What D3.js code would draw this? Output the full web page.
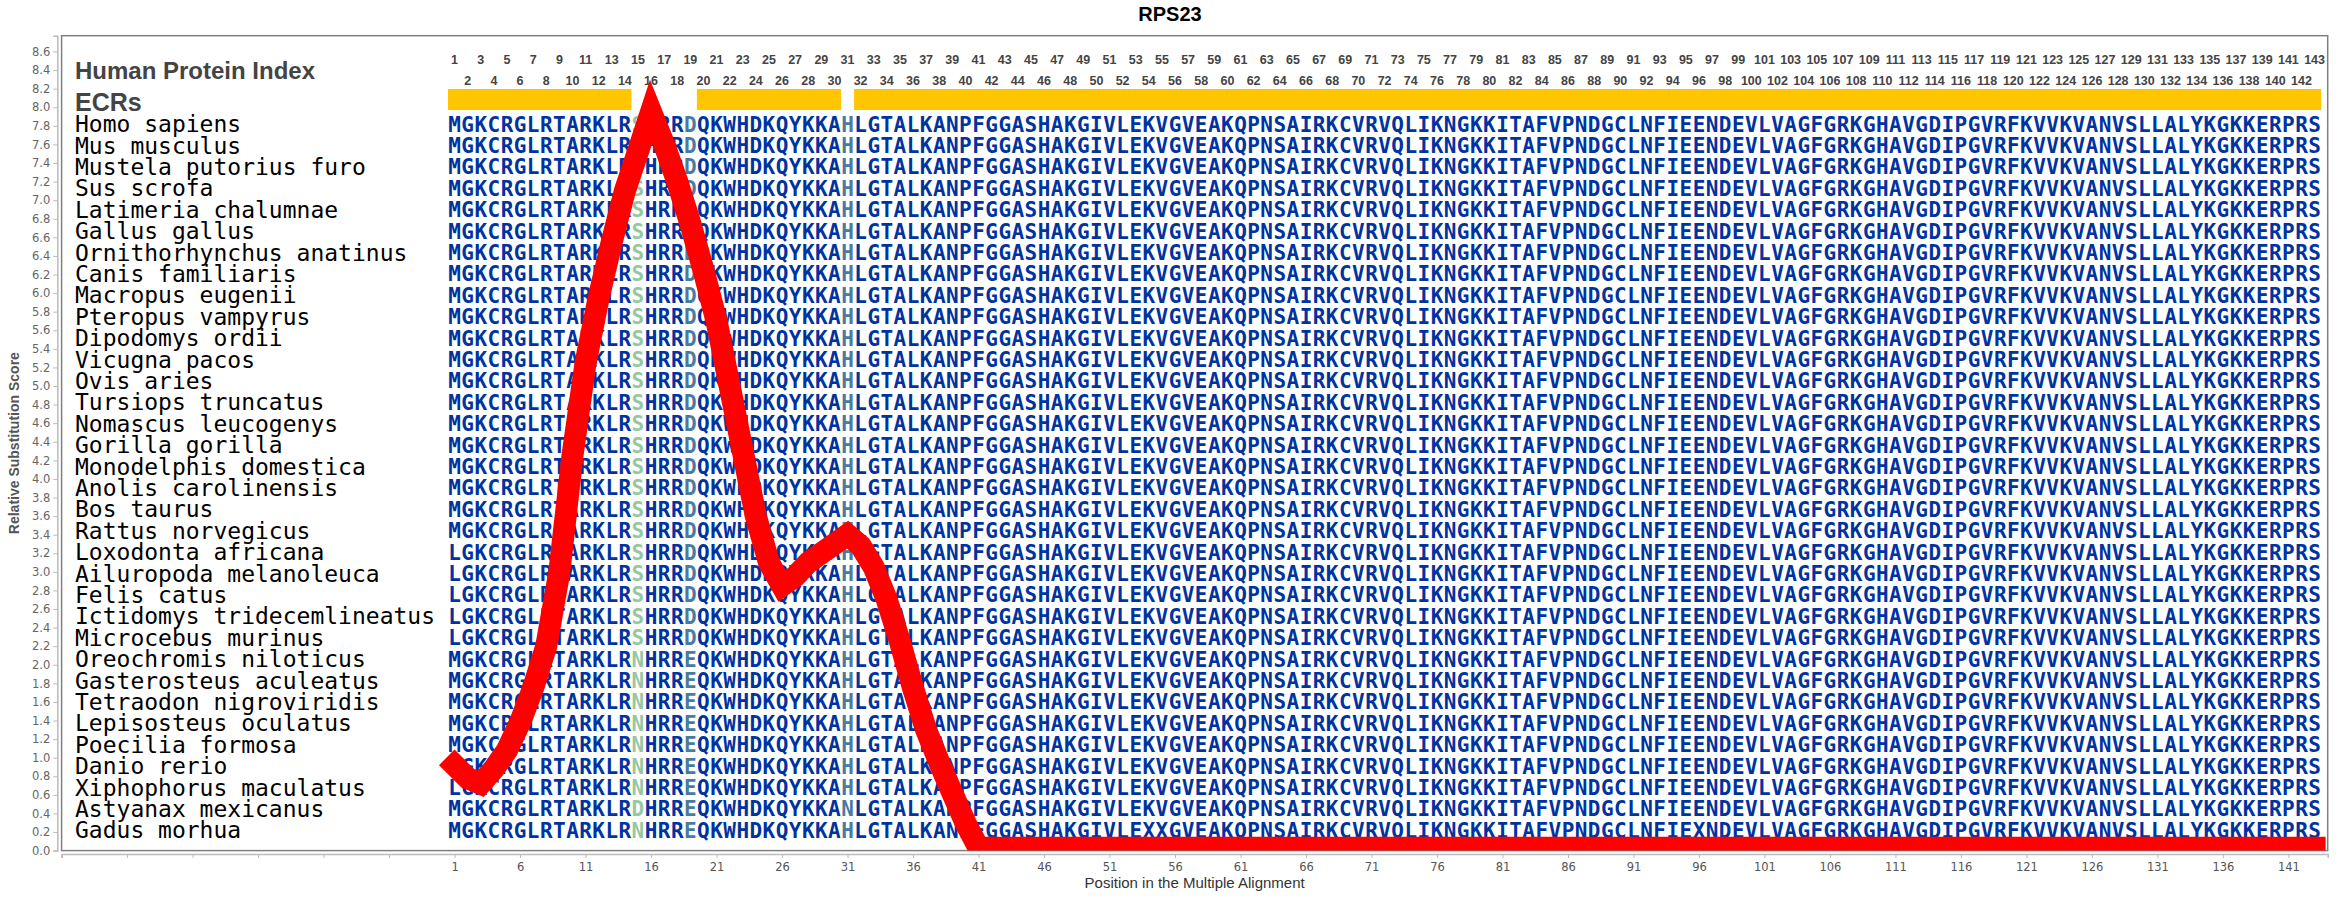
<!DOCTYPE html>
<html>
<head>
<meta charset="utf-8">
<script src="https://cdn.jsdelivr.net/npm/d3@7"></script>
<style>
  body { margin: 0; background: #fff; }
  svg { display: block; }
</style>
</head>
<body>
<div class="visHolder"></div>
<script>
const width = 2340, height = 900;

const title = "RPS23";

const species = [
  "Homo sapiens", "Mus musculus", "Mustela putorius furo", "Sus scrofa",
  "Latimeria chalumnae", "Gallus gallus", "Ornithorhynchus anatinus",
  "Canis familiaris", "Macropus eugenii", "Pteropus vampyrus", "Dipodomys ordii",
  "Vicugna pacos", "Ovis aries", "Tursiops truncatus", "Nomascus leucogenys",
  "Gorilla gorilla", "Monodelphis domestica", "Anolis carolinensis", "Bos taurus",
  "Rattus norvegicus", "Loxodonta africana", "Ailuropoda melanoleuca", "Felis catus",
  "Ictidomys tridecemlineatus", "Microcebus murinus", "Oreochromis niloticus",
  "Gasterosteus aculeatus", "Tetraodon nigroviridis", "Lepisosteus oculatus",
  "Poecilia formosa", "Danio rerio", "Xiphophorus maculatus", "Astyanax mexicanus",
  "Gadus morhua"
];

// human sequence, positions 1..143
const reference = "MGKCRGLRTARKLRSHRRDQKWHDKQYKKAHLGTALKANPFGGASHAKGIVLEKVGVEAKQPNSAIRKCVRVQLIKNGKKITAFVPNDGCLNFIEENDEVLVAGFGRKGHAVGDIPGVRFKVVKVANVSLLALYKGKKERPRS";

// residues that differ from the human sequence (position -> residue), one entry per species
const fish = {15: "N", 19: "E"};
const variants = [
  {}, {}, {}, {}, {}, {}, {}, {}, {}, {}, {}, {}, {}, {}, {}, {}, {}, {}, {}, {},
  {1: "L"}, {1: "L"}, {1: "L"}, {1: "L"}, {1: "L"},
  fish, fish, fish, fish, fish, fish,
  {1: "L", 15: "N", 19: "E"},
  {15: "D", 19: "E", 31: "N"},
  {15: "N", 19: "E", 54: "X", 55: "X", 96: "X"}
];

// evolutionarily conserved regions [from, to]
const ecrs = [[1, 14], [20, 30], [32, 143]];

// colour of variable columns
const siteColors = {15: "#96c8a0", 19: "#4a7aa0", 31: "#4a7aa0"};

// relative substitution score per alignment position 1..143
const score = [
  0.92, 0.78, 0.72, 0.88, 1.08, 1.38, 1.75, 2.20, 3.00, 4.25,
  5.25, 5.95, 6.55, 7.10, 7.52, 7.95, 7.60, 7.20, 6.75, 6.25,
  5.70, 5.00, 4.30, 3.60, 3.10, 2.85, 2.95, 3.10, 3.20, 3.30,
  3.40, 3.28, 3.05, 2.70, 2.25, 1.75, 1.30, 0.95, 0.62, 0.30,
  0.03, 0.03, 0.03, 0.03, 0.03, 0.03, 0.03, 0.03, 0.03, 0.03,
  0.03, 0.03, 0.03, 0.03, 0.03, 0.03, 0.03, 0.03, 0.03, 0.03,
  0.03, 0.03, 0.03, 0.03, 0.03, 0.03, 0.03, 0.03, 0.03, 0.03,
  0.03, 0.03, 0.03, 0.03, 0.03, 0.03, 0.03, 0.03, 0.03, 0.03,
  0.03, 0.03, 0.03, 0.03, 0.03, 0.03, 0.03, 0.03, 0.03, 0.03,
  0.03, 0.03, 0.03, 0.03, 0.03, 0.03, 0.03, 0.03, 0.03, 0.03,
  0.03, 0.03, 0.03, 0.03, 0.03, 0.03, 0.03, 0.03, 0.03, 0.03,
  0.03, 0.03, 0.03, 0.03, 0.03, 0.03, 0.03, 0.03, 0.03, 0.03,
  0.03, 0.03, 0.03, 0.03, 0.03, 0.03, 0.03, 0.03, 0.03, 0.03,
  0.03, 0.03, 0.03, 0.03, 0.03, 0.03, 0.03, 0.03, 0.03, 0.03,
  0.03, 0.03, 0.03
];

const yTickValues = [0, 0.2, 0.4, 0.6, 0.8, 1.0, 1.2, 1.4, 1.6, 1.8, 2.0, 2.2, 2.4, 2.6, 2.8,
  3.0, 3.2, 3.4, 3.6, 3.8, 4.0, 4.2, 4.4, 4.6, 4.8, 5.0, 5.2, 5.4, 5.6, 5.8, 6.0,
  6.2, 6.4, 6.6, 6.8, 7.0, 7.2, 7.4, 7.6, 7.8, 8.0, 8.2, 8.4, 8.6];
const xTickValues = [-29, -24, -19, -14, -9, -4, 1, 6, 11, 16, 21, 26, 31, 36, 41, 46, 51,
  56, 61, 66, 71, 76, 81, 86, 91, 96, 101, 106, 111, 116, 121, 126, 131, 136, 141];

const plot = {left: 61.6, right: 2327.7, top: 35.7, bottom: 850.6};

const sequences = species.map((s, i) =>
  reference.split("").map((aa, k) => variants[i][k + 1] || aa));
const positions = d3.range(1, reference.length + 1);

const xScale = d3.scaleLinear().domain([-29, 144]).range([plot.left, plot.right]);
const yScale = d3.scaleLinear().domain([0, 8.77]).range([plot.bottom, plot.top]);
const rowScale = d3.scalePoint().domain(species).range([yScale(7.82), yScale(0.22)]);

const svg = d3.select(".visHolder")
  .append("svg")
  .attr("width", width)
  .attr("height", height);

svg.append("text")
  .attr("x", width / 2)
  .attr("y", 21)
  .attr("text-anchor", "middle")
  .style("font", "bold 20px 'Liberation Sans', Arial, sans-serif")
  .text(title);

// axes
const yAxis = d3.axisLeft(yScale).tickValues(yTickValues).tickFormat(d3.format(".1f"))
  .tickSize(4).tickPadding(3);
const gy = svg.append("g")
  .attr("transform", "translate(57.3,0)")
  .call(yAxis);
gy.select(".domain").attr("stroke", "#bbb").attr("stroke-width", 1.5);
gy.selectAll(".tick line").attr("stroke", "#bbb");
gy.selectAll(".tick text").attr("fill", "#666")
  .style("font", "11.5px 'DejaVu Sans', sans-serif");

const xAxis = d3.axisBottom(xScale).tickValues(xTickValues)
  .tickFormat(d => d > 0 ? d : "").tickSize(4).tickPadding(5);
const gx = svg.append("g")
  .attr("transform", "translate(0,854)")
  .call(xAxis);
gx.select(".domain").attr("stroke", "#bbb").attr("stroke-width", 1.5);
gx.selectAll(".tick line").attr("stroke", "#bbb");
gx.selectAll(".tick text").attr("fill", "#555")
  .style("font", "11.5px 'DejaVu Sans', sans-serif");

svg.append("rect")
  .attr("x", plot.left).attr("y", plot.top)
  .attr("width", plot.right - plot.left)
  .attr("height", plot.bottom - plot.top)
  .attr("fill", "none")
  .attr("stroke", "#808080")
  .attr("stroke-width", 1.5);

svg.append("text")
  .attr("transform", "translate(19," + ((plot.top + plot.bottom) / 2) + ") rotate(-90)")
  .attr("text-anchor", "middle")
  .attr("fill", "#555")
  .style("font", "bold 14px 'Liberation Sans', Arial, sans-serif")
  .text("Relative Substitution Score");

svg.append("text")
  .attr("x", (plot.left + plot.right) / 2)
  .attr("y", 888)
  .attr("text-anchor", "middle")
  .attr("fill", "#333")
  .style("font", "15px 'Liberation Sans', Arial, sans-serif")
  .text("Position in the Multiple Alignment");

// header labels
svg.append("text")
  .attr("x", 75).attr("y", 79)
  .attr("fill", "#444")
  .style("font", "bold 24px 'Liberation Sans', Arial, sans-serif")
  .text("Human Protein Index");
svg.append("text")
  .attr("x", 75).attr("y", 111)
  .attr("fill", "#444")
  .style("font", "bold 25px 'Liberation Sans', Arial, sans-serif")
  .text("ECRs");

// position numbers, odd on the first line and even on the second
svg.append("g")
  .selectAll("text")
  .data(positions)
  .enter()
  .append("text")
  .attr("x", d => xScale(d))
  .attr("y", d => d % 2 ? 63.5 : 84.5)
  .attr("text-anchor", "middle")
  .attr("fill", "#444")
  .style("font", "bold 12.5px 'Liberation Sans', Arial, sans-serif")
  .text(d => d);

svg.append("g")
  .selectAll("rect")
  .data(ecrs)
  .enter()
  .append("rect")
  .attr("x", d => xScale(d[0] - 0.5))
  .attr("width", d => xScale(d[1] + 0.5) - xScale(d[0] - 0.5))
  .attr("y", 89)
  .attr("height", 21)
  .attr("fill", "#ffc600");

// species names
svg.append("g")
  .selectAll("text")
  .data(species)
  .enter()
  .append("text")
  .attr("x", 75)
  .attr("y", d => rowScale(d))
  .attr("dy", "0.36em")
  .attr("fill", "#000")
  .style("font", "23px 'DejaVu Sans Mono', monospace")
  .text(d => d);

// alignment
const rows = svg.append("g")
  .selectAll("g")
  .data(sequences)
  .enter()
  .append("g")
  .attr("transform", (d, i) => "translate(0," + rowScale(species[i]) + ")");

rows.selectAll("text")
  .data(d => d)
  .enter()
  .append("text")
  .attr("x", (d, k) => xScale(k + 1))
  .attr("dy", "0.36em")
  .attr("text-anchor", "middle")
  .attr("fill", (d, k) => siteColors[k + 1] || "#0033a0")
  .style("font", "bold 21px 'DejaVu Sans Mono', monospace")
  .text(d => d);

// substitution score line
svg.append("clipPath").attr("id", "plotClip")
  .append("rect")
  .attr("x", plot.left).attr("y", plot.top)
  .attr("width", plot.right - plot.left)
  .attr("height", plot.bottom - plot.top);

const line = d3.line()
  .x((d, i) => xScale(i + 1))
  .y(d => yScale(d));

svg.append("path")
  .datum(score)
  .attr("clip-path", "url(#plotClip)")
  .attr("d", line)
  .attr("fill", "none")
  .attr("stroke", "#ff0000")
  .attr("stroke-width", 22)
  .attr("stroke-linecap", "square")
  .attr("stroke-linejoin", "miter")
  .attr("stroke-miterlimit", 10);
</script>
</body>
</html>
